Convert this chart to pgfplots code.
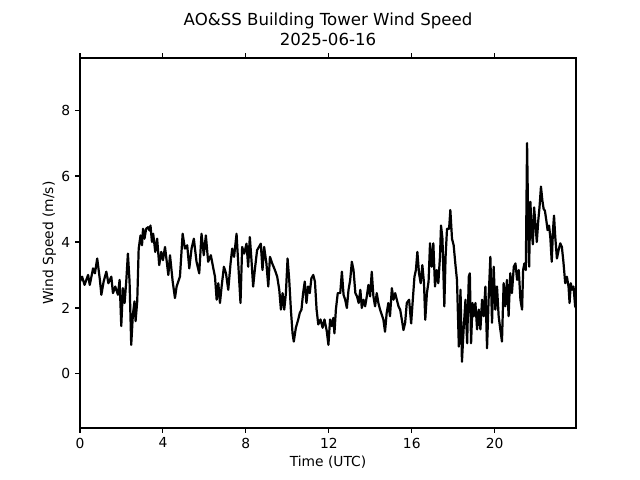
\documentclass[border=0pt]{standalone}
\usepackage{fontspec}
\setmainfont{DejaVu Sans}
\usepackage{pgfplots}
\pgfplotsset{compat=1.18}
\begin{document}
\begin{tikzpicture}
\useasboundingbox (-0.80in,-0.52in) rectangle (5.60in,4.28in);
\begin{axis}[
  at={(0,0)}, anchor=south west,
  scale only axis, width=4.96in, height=3.70in,
  xmin=0, xmax=23.92, ymin=-1.64, ymax=9.58,
  xtick={0,4,8,12,16,20}, ytick={0,2,4,6,8},
  xtick pos=both, ytick pos=left, xticklabel pos=lower,
  tick align=outside,
  major tick length=3.5pt,
  every tick/.style={black, line width=0.8pt},
  axis line style={line width=0.8pt},
  /pgf/number format/assume math mode=true,
  tick label style={font=\fontsize{10}{12}\selectfont},
  label style={font=\fontsize{10}{12}\selectfont},
  xlabel={Time (UTC)}, ylabel={Wind Speed (m/s)},
  ylabel shift=-3pt, xlabel shift=-1.5pt,
  title={AO\&SS Building Tower Wind Speed\\2025-06-16},
  title style={align=center, font=\fontsize{12}{14.4}\selectfont, yshift=-0.5pt},
]
\addplot[black, line width=1.6pt, line join=round] coordinates {
(0.00,2.80)(0.10,2.95)(0.22,2.70)(0.39,3.00)(0.47,2.70)(0.63,3.20)(0.72,3.05)(0.83,3.50)(0.96,2.85)(1.03,2.40)(1.14,2.80)(1.27,3.10)(1.37,2.75)(1.51,2.95)(1.59,2.45)(1.70,2.65)(1.83,2.40)(1.91,2.85)(1.99,1.45)(2.07,2.60)(2.15,2.15)(2.23,2.80)(2.31,3.65)(2.39,2.80)(2.47,0.88)(2.55,1.80)(2.63,2.20)(2.68,1.60)(2.76,2.20)(2.83,3.80)(2.92,4.20)(2.99,3.90)(3.04,4.40)(3.11,4.10)(3.19,4.40)(3.28,4.45)(3.35,4.35)(3.40,4.50)(3.47,4.00)(3.53,4.25)(3.63,3.70)(3.72,4.10)(3.82,3.30)(3.92,3.70)(4.00,3.45)
(4.10,3.85)(4.26,3.00)(4.34,3.60)(4.47,2.80)(4.58,2.30)(4.66,2.65)(4.82,2.95)(4.95,4.25)(5.06,3.80)(5.17,3.90)(5.27,3.20)(5.38,3.80)(5.49,4.10)(5.62,3.40)(5.75,3.05)(5.86,4.25)(5.97,3.60)(6.07,4.20)(6.18,3.40)(6.31,3.60)(6.43,3.20)
(6.51,2.95)(6.59,2.25)(6.67,2.75)(6.75,2.15)(6.83,2.65)(6.94,3.25)(7.04,3.05)(7.15,2.55)(7.26,3.35)(7.34,3.80)(7.43,3.55)(7.55,4.25)(7.64,3.25)(7.74,2.15)(7.82,3.85)(7.92,3.65)(8.03,3.95)(8.11,3.25)(8.19,4.15)(8.27,3.45)(8.35,2.65)(8.43,3.15)(8.54,3.75)(8.63,3.85)(8.72,3.95)(8.80,3.15)(8.88,3.85)(8.99,3.35)(9.08,2.65)(9.16,3.55)(9.27,3.35)(9.40,3.15)(9.51,2.95)(9.61,2.55)(9.69,1.95)(9.77,2.45)(9.85,1.95)(9.93,2.45)(10.01,3.50)(10.09,2.85)(10.17,1.95)(10.25,1.23)(10.31,0.98)(10.41,1.40)(10.52,1.64)(10.60,1.85)(10.68,1.95)(10.76,2.45)(10.84,2.80)(10.92,2.15)(11.00,2.65)(11.08,2.45)(11.16,2.90)(11.25,3.00)(11.33,2.80)(11.41,1.95)(11.49,1.50)(11.60,1.65)(11.70,1.40)(11.79,1.65)(11.90,1.30)(11.98,0.88)(12.06,1.65)(12.14,1.45)(12.22,1.70)(12.27,1.23)(12.34,1.95)(12.43,2.45)(12.55,2.45)(12.63,3.10)(12.71,2.40)(12.79,2.25)(12.87,2.00)(12.95,2.55)(13.03,2.85)(13.11,3.40)(13.19,3.15)(13.28,2.45)(13.36,2.35)(13.44,2.15)(13.52,2.55)(13.59,2.00)(13.67,2.25)(13.75,2.05)(13.83,2.35)(13.91,2.70)(13.99,2.35)(14.07,3.10)(14.15,2.35)(14.23,2.05)(14.31,2.45)(14.39,2.15)(14.47,1.95)(14.55,1.80)(14.63,1.65)(14.71,1.28)(14.79,1.85)(14.87,2.15)(14.95,1.75)(15.04,2.60)(15.12,2.25)(15.20,2.45)(15.28,2.25)(15.36,2.05)(15.44,1.95)(15.52,1.65)(15.60,1.33)(15.68,1.55)(15.76,2.15)(15.87,2.25)(15.97,1.53)(16.05,2.25)(16.13,2.95)(16.20,3.15)(16.27,3.70)(16.35,3.05)(16.43,2.75)(16.51,3.30)(16.59,2.75)(16.65,1.64)(16.73,2.45)(16.81,2.80)(16.88,3.96)(16.96,3.25)(17.04,3.96)(17.12,2.65)(17.20,3.15)(17.28,2.75)(17.36,3.55)(17.41,4.50)(17.48,4.10)(17.57,2.05)(17.63,3.55)(17.70,4.40)(17.80,4.40)(17.86,4.97)(17.94,4.10)(18.02,3.90)(18.10,3.35)(18.18,2.85)(18.27,0.83)(18.35,2.55)(18.42,0.37)(18.50,1.35)(18.59,2.25)(18.67,0.93)(18.75,2.95)(18.80,3.05)(18.86,0.93)(18.93,2.15)(18.99,1.75)(19.07,2.15)(19.15,1.35)(19.23,1.95)(19.31,1.35)(19.39,2.25)(19.47,1.75)(19.55,2.65)(19.63,0.78)(19.71,2.35)(19.79,3.55)(19.87,1.55)(19.95,3.25)(20.03,1.95)(20.11,2.65)(20.19,1.75)(20.27,1.35)(20.35,0.98)(20.43,2.75)(20.51,2.05)(20.59,2.85)(20.67,1.75)(20.75,3.05)(20.83,2.45)(20.92,3.25)(21.00,3.35)(21.08,2.85)(21.16,3.15)(21.24,2.25)(21.32,1.95)(21.37,3.15)(21.43,3.35)(21.50,3.15)(21.56,7.00)(21.61,4.80)(21.66,3.25)(21.72,5.22)(21.78,4.35)(21.84,3.93)(21.90,5.05)(21.97,4.50)(22.03,4.00)(22.10,4.65)(22.16,5.05)(22.23,5.68)(22.30,5.25)(22.36,5.00)(22.42,4.95)(22.49,4.65)(22.55,4.36)(22.62,4.50)(22.68,4.15)(22.75,3.40)(22.81,4.36)(22.86,4.80)(22.92,4.15)(23.00,3.50)(23.08,3.75)(23.16,3.96)(23.24,3.85)(23.32,3.35)(23.40,2.75)(23.48,2.95)(23.56,2.65)(23.61,2.15)(23.67,2.75)(23.73,2.55)(23.80,2.65)(23.88,2.05)(23.92,2.00)
};
\end{axis}
\end{tikzpicture}
\end{document}
